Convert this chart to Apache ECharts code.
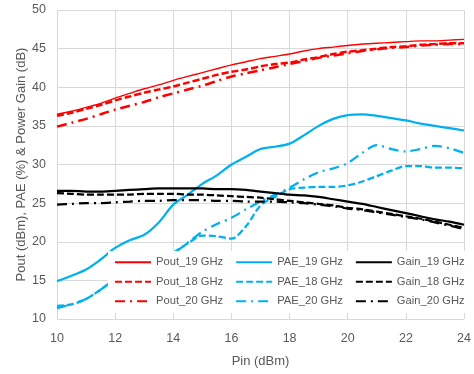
<!DOCTYPE html>
<html>
<head>
<meta charset="utf-8">
<script src="https://cdn.jsdelivr.net/npm/echarts@6/dist/echarts.min.js"></script>
<style>
html,body{margin:0;padding:0;background:#fff;}
#c{width:474px;height:374px;}
</style>
</head>
<body>
<div id="c"></div>
<script>
const pin = [10,10.5,11,11.5,12,12.5,13,13.5,14,14.5,15,15.5,16,16.5,17,17.5,18,18.5,19,19.5,20,20.5,21,21.5,22,22.5,23,23.5,24];
const pout19 = [36.5,36.9,37.4,37.9,38.6,39.2,39.8,40.3,40.9,41.4,41.9,42.4,42.9,43.3,43.7,44.0,44.3,44.7,45.0,45.2,45.4,45.6,45.7,45.8,45.9,46.0,46.0,46.1,46.2];
const pout18 = [36.3,36.7,37.2,37.7,38.3,38.8,39.3,39.7,40.1,40.6,41.1,41.6,42.0,42.3,42.7,43.0,43.2,43.6,43.9,44.3,44.6,44.8,45.0,45.2,45.3,45.5,45.6,45.7,45.7];
const pout20 = [34.9,35.4,35.9,36.5,37.1,37.6,38.1,38.7,39.2,39.7,40.2,40.8,41.4,41.8,42.2,42.6,43.0,43.4,43.8,44.1,44.4,44.7,44.9,45.1,45.2,45.4,45.5,45.6,45.6];
const pae19 = [14.9,15.6,16.4,17.7,19.2,20.2,20.9,22.5,24.8,26.1,27.5,28.6,30.0,31.0,32.0,32.3,32.7,33.8,35.0,35.9,36.4,36.5,36.3,36.0,35.7,35.3,35.0,34.7,34.4];
const pae18 = [11.7,11.9,12.6,13.8,15.2,16.4,17.2,17.9,18.6,19.8,20.8,20.7,20.4,22.0,24.7,25.8,26.8,27.0,27.1,27.1,27.3,27.8,28.5,29.2,29.8,29.8,29.6,29.6,29.5];
const pae20 = [11.4,11.9,12.6,13.8,15.2,16.4,17.2,17.9,18.5,19.9,21.3,22.3,23.1,24.2,25.2,26.1,27.0,28.1,29.0,29.5,30.2,31.5,32.5,32.0,31.7,32.0,32.4,32.1,31.5];
const gain19 = [26.6,26.6,26.5,26.5,26.6,26.7,26.8,26.9,26.9,26.9,26.9,26.8,26.8,26.7,26.5,26.3,26.1,26.0,25.8,25.5,25.2,24.9,24.5,24.1,23.7,23.3,22.9,22.6,22.2];
const gain18 = [26.3,26.2,26.1,26.1,26.1,26.1,26.2,26.2,26.2,26.1,26.1,26.0,25.9,25.8,25.7,25.5,25.3,25.1,24.9,24.7,24.4,24.2,23.9,23.6,23.3,23.0,22.6,22.2,21.8];
const gain20 = [24.8,24.9,25.0,25.0,25.1,25.2,25.3,25.3,25.4,25.4,25.4,25.3,25.3,25.2,25.2,25.2,25.1,25.0,24.8,24.6,24.3,24.1,23.8,23.5,23.2,22.9,22.5,22.1,21.6];
const legendRows = [
  ['Pout_19 GHz','PAE_19 GHz','Gain_19 GHz'],
  ['Pout_18 GHz','PAE_18 GHz','Gain_18 GHz'],
  ['Pout_20 GHz','PAE_20 GHz','Gain_20 GHz']
];

const RED = '#FF0000', BLUE = '#00B0F0', BLACK = '#000000';
const DASH = [7,3];
const DASHDOT = [10,5,2,5];
function pairs(arr){ return pin.map((x,i)=>[x,arr[i]]); }
function s(name, arr, color, type, width){
  return {name:name, type:'line', data:pairs(arr), smooth:0.3, symbol:'none',
    lineStyle:{color:color, width:width, type:type}, itemStyle:{color:color}};
}
const series = [
  s('Pout_19 GHz', pout19, RED, 'solid', 1.4),
  s('Pout_18 GHz', pout18, RED, DASH, 2.5),
  s('Pout_20 GHz', pout20, RED, DASHDOT, 2.5),
  s('PAE_19 GHz', pae19, BLUE, 'solid', 2.25),
  s('PAE_18 GHz', pae18, BLUE, DASH, 2.25),
  s('PAE_20 GHz', pae20, BLUE, DASHDOT, 2.25),
  s('Gain_19 GHz', gain19, BLACK, 'solid', 2.25),
  s('Gain_18 GHz', gain18, BLACK, DASH, 2.25),
  s('Gain_20 GHz', gain20, BLACK, DASHDOT, 2.25)
];
const FONT = 'Liberation Sans, Arial, sans-serif';
const legends = legendRows.map((row,i)=>({
  data: row, left: 110, top: 253 + i*19.5, width: 420, orient:'horizontal',
  itemWidth: 36, itemHeight: 12, itemGap: 12,
  padding:[3.75,4,3.75,4], z: 10,
  itemStyle:{color:'rgba(0,0,0,0)', borderColor:'rgba(0,0,0,0)', borderWidth:0, opacity:0},
  textStyle:{color:'#595959', fontSize:11.2, fontFamily:FONT},
  selectedMode:false
}));
const chart = echarts.init(document.getElementById('c'), null, {renderer:'canvas'});
chart.setOption({
  animation:false,
  backgroundColor:'#fff',
  grid:{left:57, right:7, top:10, bottom:55},
  legend: legends,
  graphic:[{type:'rect', left:108, top:251, z:5, silent:true,
    shape:{width:358, height:62}, style:{fill:'#fff'}}],
  xAxis:{type:'value', min:10, max:24, interval:2,
    name:'Pin (dBm)', nameLocation:'middle', nameGap:36, nameMoveOverlap:false,
    nameTextStyle:{color:'#595959', fontSize:13, fontFamily:FONT},
    axisLine:{show:false}, axisTick:{show:false},
    axisLabel:{color:'#595959', fontSize:12.5, fontFamily:FONT, margin:13},
    splitLine:{show:true, lineStyle:{color:'#d9d9d9', width:1}}},
  yAxis:{type:'value', min:10, max:50, interval:5,
    name:'Pout (dBm), PAE (%) & Power Gain (dB)', nameLocation:'middle', nameGap:29, nameMoveOverlap:false,
    nameTextStyle:{color:'#595959', fontSize:13, fontFamily:FONT},
    axisLine:{show:false}, axisTick:{show:false},
    axisLabel:{color:'#595959', fontSize:12.5, fontFamily:FONT, margin:11},
    splitLine:{show:true, lineStyle:{color:'#d9d9d9', width:1}}},
  series: series
});
</script>
</body>
</html>
